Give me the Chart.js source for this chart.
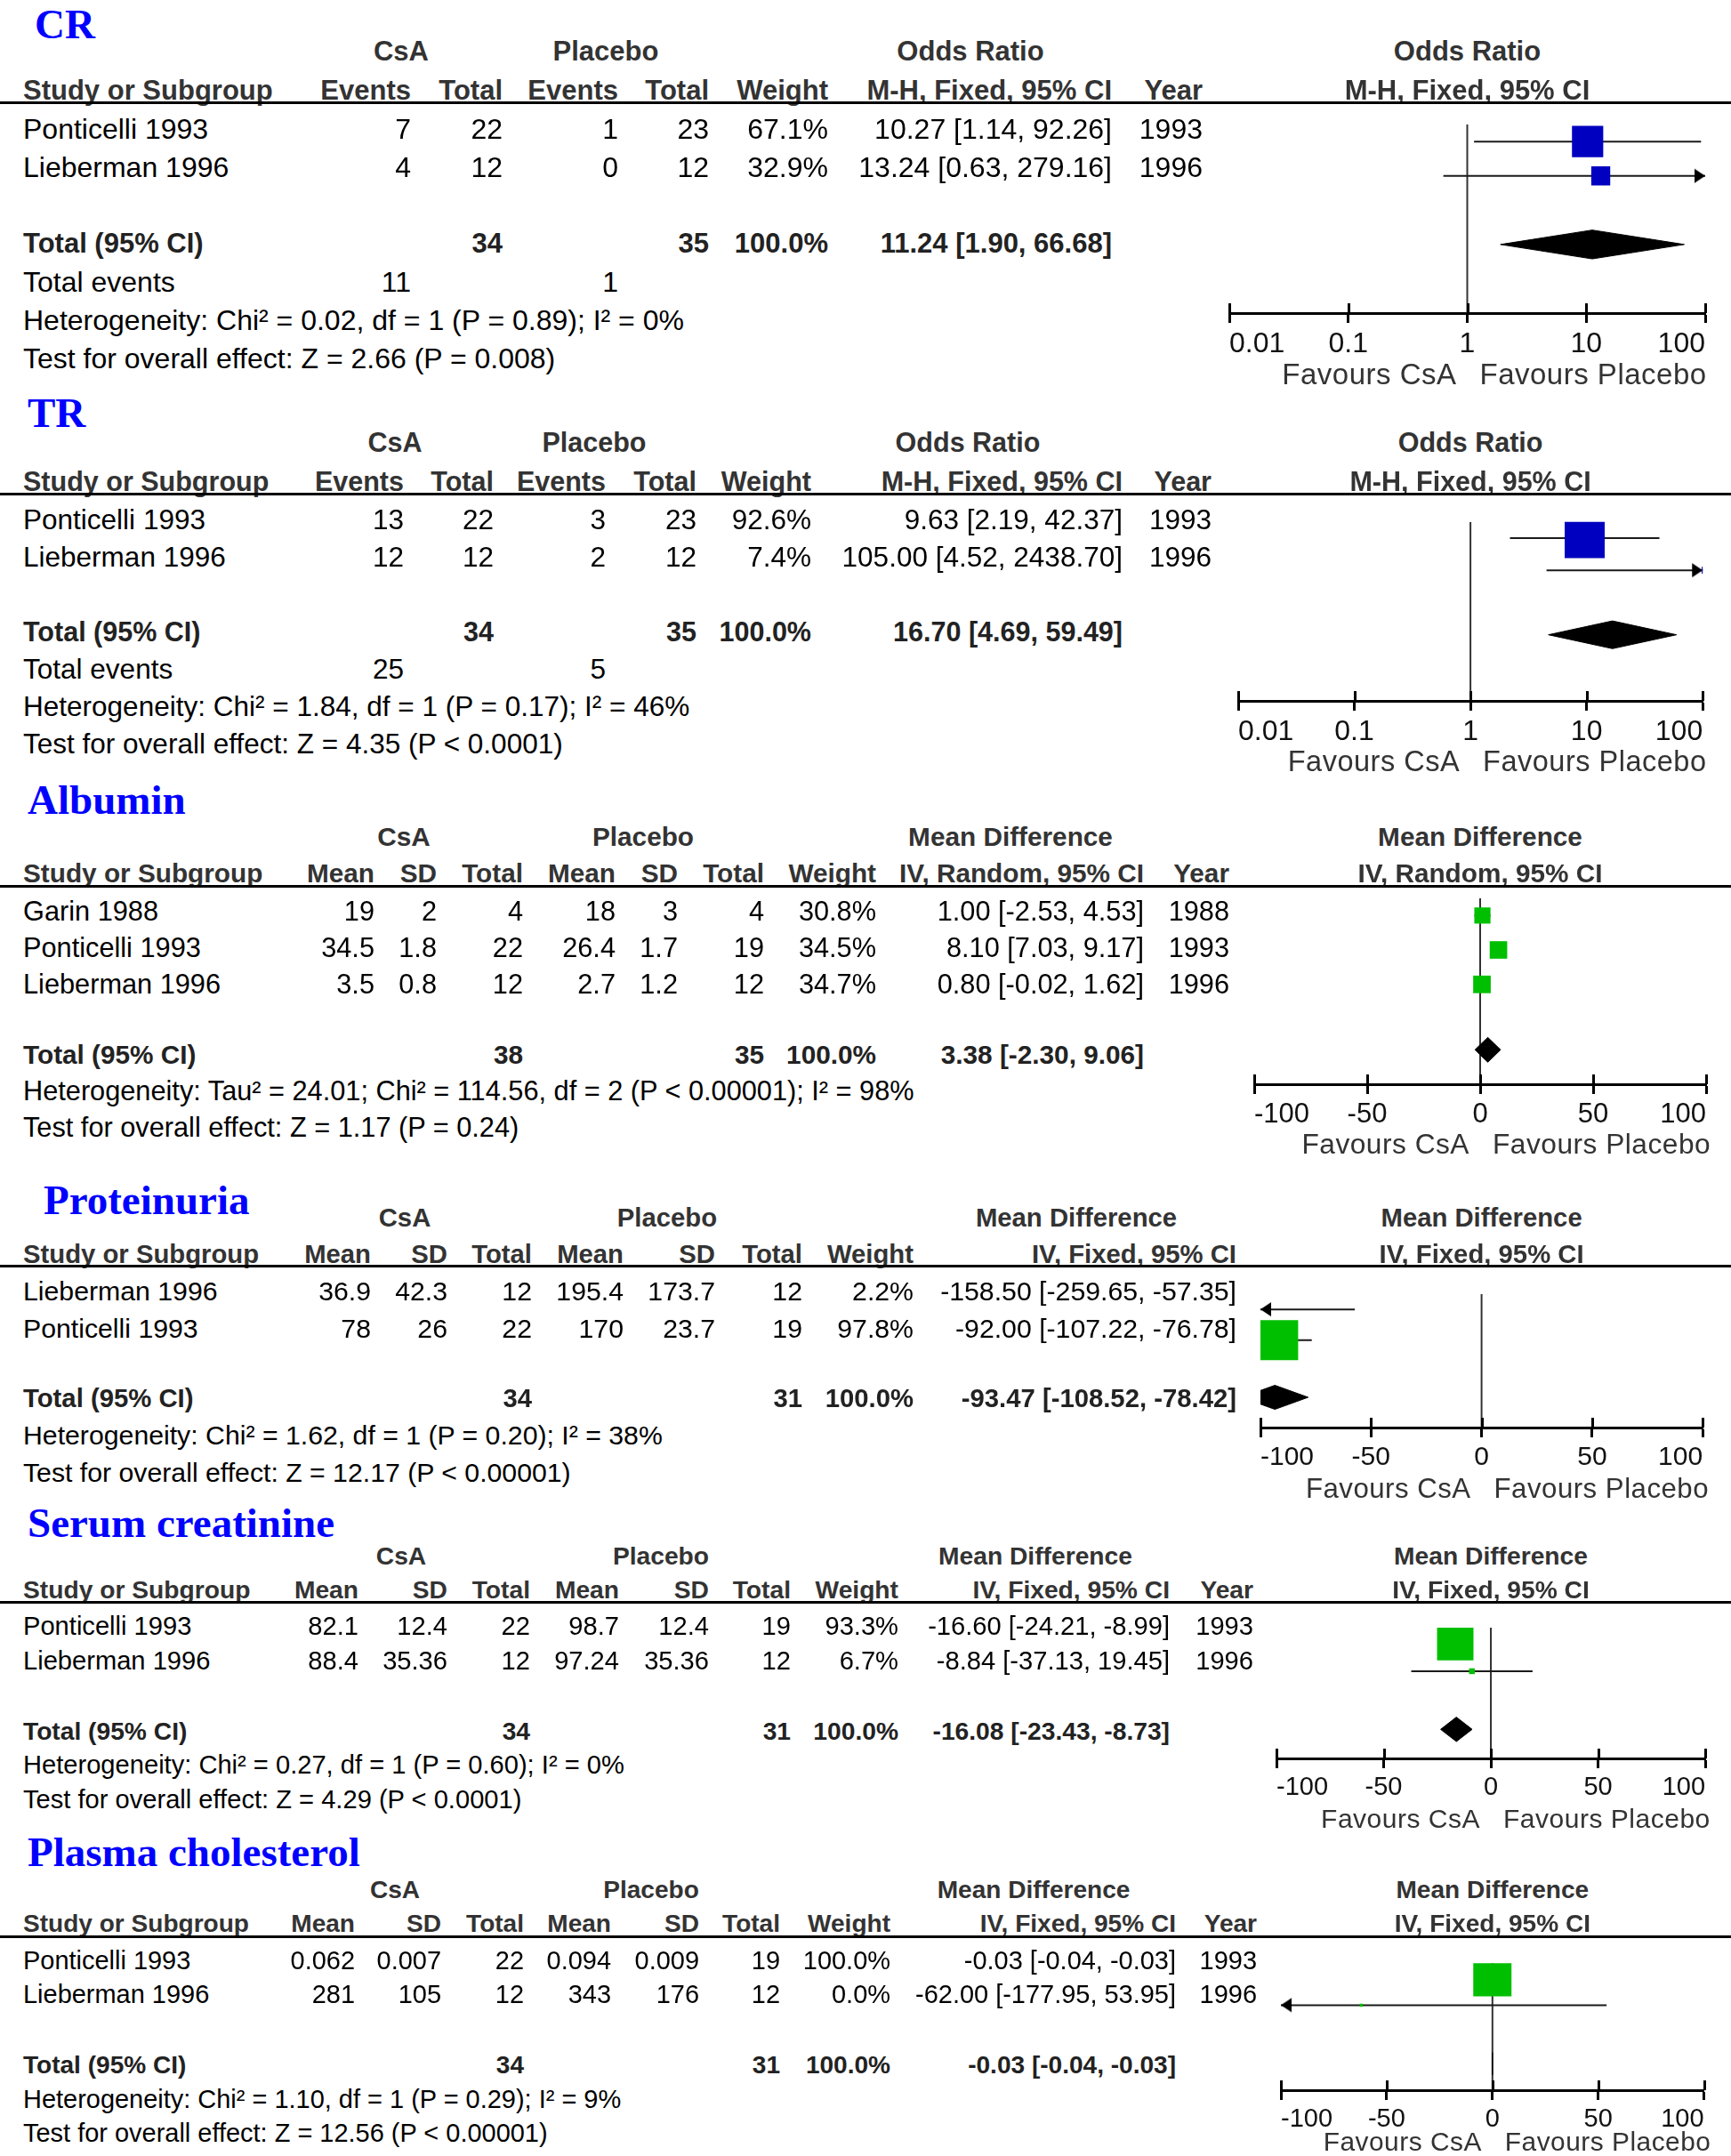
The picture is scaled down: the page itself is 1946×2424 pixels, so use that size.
<!DOCTYPE html>
<html>
<head>
<meta charset="utf-8">
<title>CsA vs placebo - forest plots</title>
<script src="https://cdn.jsdelivr.net/npm/chart.js@4.4.1/dist/chart.umd.min.js"></script>
<style>
  body { margin: 0; background: #fff; }
  #page { position: relative; width: 1946px; height: 2424px; overflow: hidden; background: #fff; }
  .t { position: absolute; white-space: nowrap; line-height: 1; font-family: "Liberation Sans", Arial, sans-serif; }
  .body { color: #000; }
  .hd { font-weight: bold; color: #333; }
  .tot { font-weight: bold; color: #222; }
  .fav { color: #333; letter-spacing: 0.5px; }
  .ttl { font-family: "Liberation Serif", "Times New Roman", serif; font-size: 47px; font-weight: bold; color: #00f; }
  .rule { position: absolute; left: 0; width: 1946px; height: 3px; background: #000; }
  canvas { position: absolute; }
</style>
</head>
<body>
<div id="page"></div>
<script>
// axis ticks
const orTicks = [0.01, 0.1, 1, 10, 100];
const orTickLabels = ["0.01", "0.1", "1", "10", "100"];
const mdTicks = [-100, -50, 0, 50, 100];
const mdTickLabels = ["-100", "-50", "0", "50", "100"];

// CR
const crStudies = ["Ponticelli 1993", "Lieberman 1996"];
const crCsaEvents = [7, 4];
const crCsaTotal = [22, 12];
const crPlaEvents = [1, 0];
const crPlaTotal = [23, 12];
const crWeight = [67.1, 32.9];
const crEst = [10.27, 13.24];
const crLow = [1.14, 0.63];
const crHigh = [92.26, 279.16];
const crYear = [1993, 1996];
const crPooled = [11.24, 1.90, 66.68];
const crTotals = [34, 35];
const crTotalEvents = [11, 1];
const crStats = ["Heterogeneity: Chi² = 0.02, df = 1 (P = 0.89); I² = 0%", "Test for overall effect: Z = 2.66 (P = 0.008)"];

// TR
const trStudies = ["Ponticelli 1993", "Lieberman 1996"];
const trCsaEvents = [13, 12];
const trCsaTotal = [22, 12];
const trPlaEvents = [3, 2];
const trPlaTotal = [23, 12];
const trWeight = [92.6, 7.4];
const trEst = [9.63, 105.00];
const trLow = [2.19, 4.52];
const trHigh = [42.37, 2438.70];
const trYear = [1993, 1996];
const trPooled = [16.70, 4.69, 59.49];
const trTotals = [34, 35];
const trTotalEvents = [25, 5];
const trStats = ["Heterogeneity: Chi² = 1.84, df = 1 (P = 0.17); I² = 46%", "Test for overall effect: Z = 4.35 (P < 0.0001)"];

// Albumin
const alStudies = ["Garin 1988", "Ponticelli 1993", "Lieberman 1996"];
const alCsaMean = [19, 34.5, 3.5];
const alCsaSD = [2, 1.8, 0.8];
const alCsaTotal = [4, 22, 12];
const alPlaMean = [18, 26.4, 2.7];
const alPlaSD = [3, 1.7, 1.2];
const alPlaTotal = [4, 19, 12];
const alWeight = [30.8, 34.5, 34.7];
const alEst = [1.00, 8.10, 0.80];
const alLow = [-2.53, 7.03, -0.02];
const alHigh = [4.53, 9.17, 1.62];
const alYear = [1988, 1993, 1996];
const alPooled = [3.38, -2.30, 9.06];
const alTotals = [38, 35];
const alStats = ["Heterogeneity: Tau² = 24.01; Chi² = 114.56, df = 2 (P < 0.00001); I² = 98%", "Test for overall effect: Z = 1.17 (P = 0.24)"];

// Proteinuria
const prStudies = ["Lieberman 1996", "Ponticelli 1993"];
const prCsaMean = [36.9, 78];
const prCsaSD = [42.3, 26];
const prCsaTotal = [12, 22];
const prPlaMean = [195.4, 170];
const prPlaSD = [173.7, 23.7];
const prPlaTotal = [12, 19];
const prWeight = [2.2, 97.8];
const prEst = [-158.50, -92.00];
const prLow = [-259.65, -107.22];
const prHigh = [-57.35, -76.78];
const prPooled = [-93.47, -108.52, -78.42];
const prTotals = [34, 31];
const prStats = ["Heterogeneity: Chi² = 1.62, df = 1 (P = 0.20); I² = 38%", "Test for overall effect: Z = 12.17 (P < 0.00001)"];

// Serum creatinine
const scStudies = ["Ponticelli 1993", "Lieberman 1996"];
const scCsaMean = [82.1, 88.4];
const scCsaSD = [12.4, 35.36];
const scCsaTotal = [22, 12];
const scPlaMean = [98.7, 97.24];
const scPlaSD = [12.4, 35.36];
const scPlaTotal = [19, 12];
const scWeight = [93.3, 6.7];
const scEst = [-16.60, -8.84];
const scLow = [-24.21, -37.13];
const scHigh = [-8.99, 19.45];
const scYear = [1993, 1996];
const scPooled = [-16.08, -23.43, -8.73];
const scTotals = [34, 31];
const scStats = ["Heterogeneity: Chi² = 0.27, df = 1 (P = 0.60); I² = 0%", "Test for overall effect: Z = 4.29 (P < 0.0001)"];

// Plasma cholesterol
const pcStudies = ["Ponticelli 1993", "Lieberman 1996"];
const pcCsaMean = [0.062, 281];
const pcCsaSD = [0.007, 105];
const pcCsaTotal = [22, 12];
const pcPlaMean = [0.094, 343];
const pcPlaSD = [0.009, 176];
const pcPlaTotal = [19, 12];
const pcWeight = [100.0, 0.0];
const pcEst = [-0.03, -62.00];
const pcLow = [-0.04, -177.95];
const pcHigh = [-0.03, 53.95];
const pcYear = [1993, 1996];
const pcPooled = [-0.03, -0.04, -0.03];
const pcTotals = [34, 31];
const pcStats = ["Heterogeneity: Chi² = 1.10, df = 1 (P = 0.29); I² = 9%", "Test for overall effect: Z = 12.56 (P < 0.00001)"];

// ---- layout ----
const PAGE_W = 1946;
const PAGE_H = 2424;
const PAD_L = 60;
const AX_H = 52;
const binHead = ["Events", "Total", "Events", "Total", "Weight"];
const contHead = ["Mean", "SD", "Total", "Mean", "SD", "Total", "Weight"];
const BLUE = "#0000c0";
const GREEN = "#00bf00";

// s = text scale of each panel (the panels were pasted at slightly different sizes)
const panels = [
  { title: "CR", tx: 39, tb: 43, h1: 57, line: 115, kind: "bin", log: true, s: 1.0,
    effect: "Odds Ratio", method: "M-H, Fixed, 95% CI",
    groupX: [451, 681, 1091], cols: [462, 565, 695, 797, 931, 1250, 1352],
    x0: 1382, x1: 1917, pitch: 43, yMax: 5.5, total: 3.5, dh: 0.42, boxK: 1.85, color: BLUE,
    data: { studies: crStudies, cells: [crCsaEvents, crCsaTotal, crPlaEvents, crPlaTotal], weight: crWeight,
            est: crEst, low: crLow, high: crHigh, year: crYear, pooled: crPooled, totals: crTotals,
            events: crTotalEvents, stats: crStats } },
  { title: "TR", tx: 31, tb: 480, h1: 497, line: 555, kind: "bin", log: true, s: 0.985,
    effect: "Odds Ratio", method: "M-H, Fixed, 95% CI",
    groupX: [444, 668, 1088], cols: [454, 555, 681, 783, 912, 1262, 1362],
    x0: 1392, x1: 1917, pitch: 42, yMax: 5.55, total: 3.5, dh: 0.43, boxK: 1.89, color: BLUE,
    data: { studies: trStudies, cells: [trCsaEvents, trCsaTotal, trPlaEvents, trPlaTotal], weight: trWeight,
            est: trEst, low: trLow, high: trHigh, year: trYear, pooled: trPooled, totals: trTotals,
            events: trTotalEvents, stats: trStats } },
  { title: "Albumin", tx: 31, tb: 915, h1: 941, line: 996, kind: "cont", log: false, s: 0.96,
    effect: "Mean Difference", method: "IV, Random, 95% CI",
    groupX: [454, 723, 1136], cols: [421, 491, 588, 692, 762, 859, 985, 1286, 1382],
    x0: 1410, x1: 1918, pitch: 41.3, yMax: 5.4, total: 4.4, dh: 0.36, boxK: 1.65, color: GREEN,
    data: { studies: alStudies, cells: [alCsaMean, alCsaSD, alCsaTotal, alPlaMean, alPlaSD, alPlaTotal], weight: alWeight,
            est: alEst, low: alLow, high: alHigh, year: alYear, pooled: alPooled, totals: alTotals, stats: alStats } },
  { title: "Proteinuria", tx: 49, tb: 1365, h1: 1368, line: 1423, kind: "cont", log: false, s: 0.945,
    effect: "Mean Difference", method: "IV, Fixed, 95% CI",
    groupX: [455, 750, 1210], cols: [417, 503, 598, 701, 804, 902, 1027, 1390],
    x0: 1417, x1: 1919, pitch: 42, yMax: 4.33, total: 3.35, dh: 0.39, boxK: 1.82, color: GREEN,
    data: { studies: prStudies, cells: [prCsaMean, prCsaSD, prCsaTotal, prPlaMean, prPlaSD, prPlaTotal], weight: prWeight,
            est: prEst, low: prLow, high: prHigh, year: null, pooled: prPooled, totals: prTotals, stats: prStats } },
  { title: "Serum creatinine", tx: 31, tb: 1728, h1: 1749, line: 1801, kind: "cont", log: false, s: 0.91,
    effect: "Mean Difference", method: "IV, Fixed, 95% CI",
    groupX: [451, 743, 1164], cols: [403, 503, 596, 696, 797, 889, 1010, 1315, 1409],
    x0: 1435, x1: 1920, pitch: 39, yMax: 4.5, total: 3.5, dh: 0.42, boxK: 1.71, color: GREEN,
    data: { studies: scStudies, cells: [scCsaMean, scCsaSD, scCsaTotal, scPlaMean, scPlaSD, scPlaTotal], weight: scWeight,
            est: scEst, low: scLow, high: scHigh, year: scYear, pooled: scPooled, totals: scTotals, stats: scStats } },
  { title: "Plasma cholesterol", tx: 31, tb: 2098, h1: 2125, line: 2177, kind: "cont", log: false, s: 0.905,
    effect: "Mean Difference", method: "IV, Fixed, 95% CI",
    groupX: [444, 732, 1162], cols: [399, 496, 589, 687, 786, 877, 1001, 1322, 1413],
    x0: 1440, x1: 1920, pitch: 38, yMax: 4.55, total: 3.6, dh: 0.4, boxK: 1.71, color: GREEN,
    data: { studies: pcStudies, cells: [pcCsaMean, pcCsaSD, pcCsaTotal, pcPlaMean, pcPlaSD, pcPlaTotal], weight: pcWeight,
            est: pcEst, low: pcLow, high: pcHigh, year: pcYear, pooled: pcPooled, totals: pcTotals, stats: pcStats } }
];

const page = document.getElementById("page");

function put(str, x, cy, align, cls, size) {
  const d = document.createElement("div");
  d.className = "t " + cls;
  d.textContent = str;
  d.style.fontSize = size + "px";
  d.style.top = (cy - size * 0.49) + "px";
  if (align === "left") {
    d.style.left = x + "px";
  } else if (align === "right") {
    d.style.left = (x - 800) + "px"; d.style.width = "800px"; d.style.textAlign = "right";
  } else {
    d.style.left = (x - 400) + "px"; d.style.width = "800px"; d.style.textAlign = "center";
  }
  page.appendChild(d);
}

function fmtCI(e, l, h) {
  return e.toFixed(2) + " [" + l.toFixed(2) + ", " + h.toFixed(2) + "]";
}

// arrow head, tip at the centre of the image so it ends on the axis limit
const arrowHead = document.createElement("canvas");
arrowHead.width = 28; arrowHead.height = 18;
(function () {
  const a = arrowHead.getContext("2d");
  a.fillStyle = "#000";
  a.beginPath(); a.moveTo(14, 9); a.lineTo(2, 1); a.lineTo(2, 17); a.closePath(); a.fill();
})();

// tick marks also go up from the axis line
const tickStubs = {
  id: "tickStubs",
  afterDraw(chart) {
    const sx = chart.scales.x, ctx = chart.ctx;
    ctx.save();
    ctx.strokeStyle = "#000"; ctx.lineWidth = 3;
    sx.ticks.forEach(t => {
      const px = Math.round(sx.getPixelForValue(t.value)) + 0.5;
      ctx.beginPath(); ctx.moveTo(px, sx.top); ctx.lineTo(px, sx.top - 11); ctx.stroke();
    });
    ctx.restore();
  }
};

function buildPlot(p) {
  const d = p.data;
  const ticksV = p.log ? orTicks : mdTicks;
  const ticksL = p.log ? orTickLabels : mdTickLabels;
  const xMin = ticksV[0], xMax = ticksV[ticksV.length - 1];
  const ref = p.log ? 1 : 0;
  const left = p.x0 - PAD_L;

  const cv = document.createElement("canvas");
  cv.width = PAGE_W - left;
  cv.height = Math.round(p.pitch * p.yMax) + AX_H;
  cv.style.left = left + "px";
  cv.style.top = p.line + "px";
  page.appendChild(cv);

  const rows = d.est.map((_, i) => i + 0.5);
  const ds = [];
  ds.push({ data: [{ x: ref, y: 0 }, { x: ref, y: p.yMax }], showLine: true,
            borderColor: "#333", borderWidth: 2, pointRadius: 0, order: 5 });
  rows.forEach((r, i) => ds.push({
    data: [{ x: d.low[i], y: r }, { x: d.high[i], y: r }], showLine: true,
    borderColor: "#1a1a1a", borderWidth: 2, pointRadius: 0, clip: 0, order: 4 }));

  const arrows = [], rot = [];
  rows.forEach((r, i) => {
    if (d.high[i] > xMax) { arrows.push({ x: xMax, y: r }); rot.push(0); }
    if (d.low[i] < xMin) { arrows.push({ x: xMin, y: r }); rot.push(180); }
  });
  ds.push({ data: arrows, pointStyle: arrowHead, pointRotation: rot, pointRadius: 9, order: 3 });

  const [pe, pl, ph] = d.pooled;
  const ty = p.total;
  ds.push({ data: [{ x: pl, y: ty }, { x: pe, y: ty - p.dh }, { x: ph, y: ty }, { x: pe, y: ty + p.dh }, { x: pl, y: ty }],
            showLine: true, fill: "shape", backgroundColor: "#000", borderColor: "#000", borderWidth: 1,
            pointRadius: 0, clip: 0, order: 2 });

  ds.push({ data: rows.map((r, i) => ({ x: d.est[i], y: r })), pointStyle: "rect",
            pointRadius: d.weight.map(w => Math.max(3.5, p.boxK * Math.pow(w, 0.7)) / Math.SQRT2),
            backgroundColor: p.color, pointBackgroundColor: p.color, pointBorderWidth: 0, clip: 0, order: 1 });

  const chart = new Chart(cv, {
    type: "scatter",
    data: { datasets: ds },
    options: {
      responsive: false,
      animation: false,
      events: [],
      layout: { padding: { left: PAD_L, right: PAGE_W - p.x1, top: 0, bottom: 0 } },
      plugins: { legend: { display: false }, tooltip: { enabled: false } },
      scales: {
        x: {
          type: p.log ? "logarithmic" : "linear",
          min: xMin, max: xMax, position: "bottom",
          afterBuildTicks: s => { s.ticks = ticksV.map(v => ({ value: v })); },
          afterFit: s => { s.height = AX_H; },
          ticks: { autoSkip: false, maxRotation: 0, padding: 5, color: "#111", align: "inner",
                   font: { family: "Liberation Sans", size: Math.round(32 * p.s) }, callback: (v, i) => ticksL[i] },
          grid: { display: true, drawOnChartArea: false, drawTicks: true, tickLength: 11, tickWidth: 3, tickColor: "#000" },
          border: { display: true, color: "#000", width: 3 }
        },
        y: { type: "linear", min: 0, max: p.yMax, reverse: true, display: false }
      }
    },
    plugins: [tickStubs]
  });

  const zx = left + chart.scales.x.getPixelForValue(ref);
  const axisY = p.line + chart.chartArea.bottom;
  const favSize = 33 * p.s;
  const favY = Math.min(axisY + 68, PAGE_H - favSize * 0.56);
  put(p.effect, zx, p.h1, "center", "hd", 31 * p.s);
  put(p.method, zx, p.line - 14, "center", "hd", 31 * p.s);
  put("Favours CsA", zx - 12, favY, "right", "fav", favSize);
  put("Favours Placebo", zx + 14, favY, "left", "fav", favSize);
}

function renderPanel(p) {
  const d = p.data;
  const h2 = p.line - 14;
  const fb = 32 * p.s, fh = 31 * p.s;

  const t = document.createElement("div");
  t.className = "t ttl";
  t.textContent = p.title;
  t.style.left = p.tx + "px";
  t.style.top = (p.tb - 39) + "px";
  page.appendChild(t);

  put("CsA", p.groupX[0], p.h1, "center", "hd", fh);
  put("Placebo", p.groupX[1], p.h1, "center", "hd", fh);
  put(p.effect, p.groupX[2], p.h1, "center", "hd", fh);

  put("Study or Subgroup", 26, h2, "left", "hd", fh);
  const heads = (p.kind === "bin" ? binHead : contHead).concat([p.method]).concat(d.year ? ["Year"] : []);
  heads.forEach((h, i) => put(h, p.cols[i], h2, "right", "hd", fh));

  buildPlot(p);

  const rule = document.createElement("div");
  rule.className = "rule";
  rule.style.top = (p.line - 1.5) + "px";
  page.appendChild(rule);

  const rowY = r => p.line + p.pitch * r + 8;
  const wCol = p.kind === "bin" ? 4 : 6;
  d.studies.forEach((s, i) => {
    const y = rowY(i + 0.5);
    put(s, 26, y, "left", "body", fb);
    d.cells.forEach((arr, c) => put(String(arr[i]), p.cols[c], y, "right", "body", fb));
    put(d.weight[i].toFixed(1) + "%", p.cols[wCol], y, "right", "body", fb);
    put(fmtCI(d.est[i], d.low[i], d.high[i]), p.cols[wCol + 1], y, "right", "body", fb);
    if (d.year) put(String(d.year[i]), p.cols[wCol + 2], y, "right", "body", fb);
  });

  let y = rowY(p.total);
  const totCols = p.kind === "bin" ? [1, 3] : [2, 5];
  put("Total (95% CI)", 26, y, "left", "tot", fh);
  put(String(d.totals[0]), p.cols[totCols[0]], y, "right", "tot", fh);
  put(String(d.totals[1]), p.cols[totCols[1]], y, "right", "tot", fh);
  put(d.weight.reduce((a, b) => a + b, 0).toFixed(1) + "%", p.cols[wCol], y, "right", "tot", fh);
  put(fmtCI(d.pooled[0], d.pooled[1], d.pooled[2]), p.cols[wCol + 1], y, "right", "tot", fh);

  if (d.events) {
    y += p.pitch;
    put("Total events", 26, y, "left", "body", fb);
    put(String(d.events[0]), p.cols[0], y, "right", "body", fb);
    put(String(d.events[1]), p.cols[2], y, "right", "body", fb);
  }
  d.stats.forEach(s => {
    y += p.pitch;
    put(s, 26, y, "left", "body", fb);
  });
}

panels.forEach(renderPanel);
</script>
</body>
</html>
